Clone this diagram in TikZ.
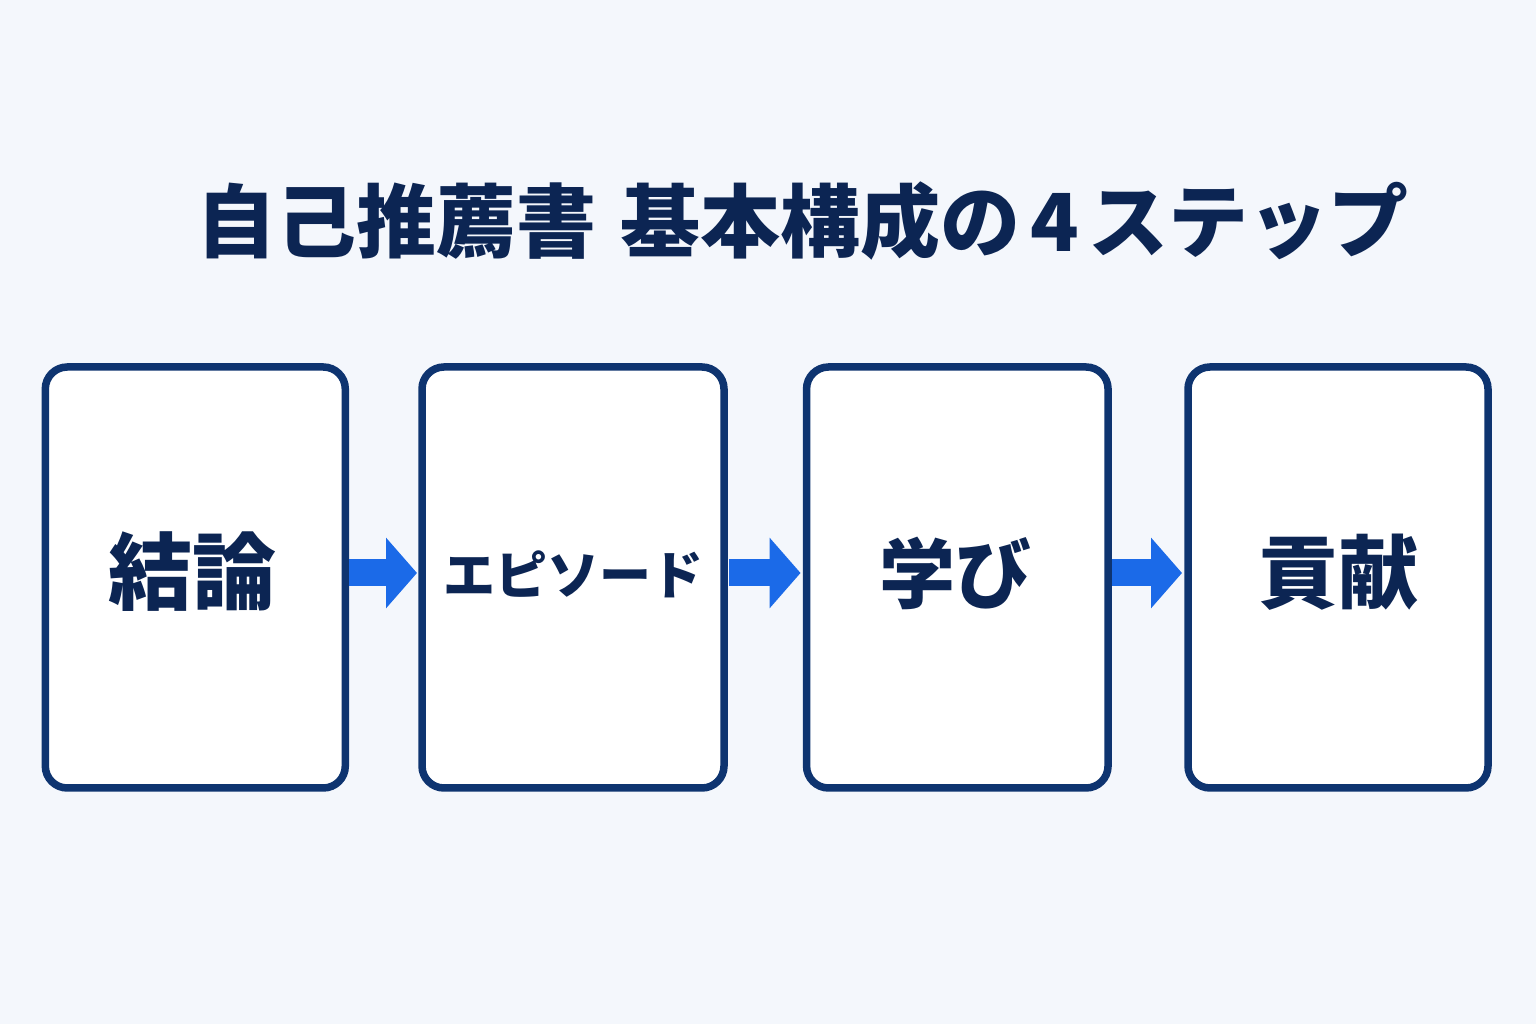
\documentclass[tikz,border=0pt]{standalone}
\usepackage{fontspec}
\newfontfamily\cjk{Noto Sans CJK JP}
\usetikzlibrary{arrows.meta}
\definecolor{bgc}{HTML}{F4F7FC}
\definecolor{boxline}{HTML}{0E3470}
\definecolor{txtc}{HTML}{0C2553}
\definecolor{arrc}{HTML}{1B6AE8}
\tikzset{
  stepbox/.style={draw=boxline, line width=7.5pt, fill=white, rounded corners=22pt,
    minimum width=300pt, minimum height=421pt, inner sep=0pt, outer sep=0pt},
  steptext/.style={text=txtc, font=\cjk\bfseries, inner sep=0pt},
  flowarrow/.style={draw=arrc, line width=27pt,
    -{Triangle[length=31pt 0 0, width=69pt 0 0]}}
}
\begin{document}
\begin{tikzpicture}[x=1pt,y=1pt]
  \fill[bgc] (0,0) rectangle (1536,1024);
  \useasboundingbox (0,0) rectangle (1536,1024);
  \node[text=txtc, font=\cjk\bfseries\fontsize{80}{96}\selectfont, inner sep=0pt]
    (title) at (802.5,803) {自己推薦書\hspace{0.3em}基本構成の\hspace{0.12em}4\hspace{0.12em}ステップ};
  \node[stepbox] (b1) at (195.3,446.5) {};
  \node[stepbox, minimum width=302pt] (b2) at (573,446.5) {};
  \node[stepbox, minimum width=301.5pt] (b3) at (957.3,446.5) {};
  \node[stepbox] (b4) at (1338,446.5) {};
  \node[steptext, font=\cjk\bfseries\fontsize{84}{96}\selectfont] (t1) at ([yshift=5.5pt,xshift=-3pt]b1.center) {結論};
  \node[steptext, font=\cjk\bfseries\fontsize{52}{62}\selectfont] (t2) at ([yshift=3pt]b2.center) {エピソード};
  \node[steptext, font=\cjk\bfseries\fontsize{76}{90}\selectfont] (t3) at ([yshift=4.5pt,xshift=-2pt]b3.center) {学び};
  \node[steptext, font=\cjk\bfseries\fontsize{80}{96}\selectfont] (t4) at ([yshift=5pt]b4.center) {貢献};
  \draw[flowarrow] ([xshift=3.5pt,yshift=4.5pt]b1.east) -- ([xshift=-5pt,yshift=4.5pt]b2.west);
  \draw[flowarrow] ([xshift=5pt,yshift=4.5pt]b2.east) -- ([xshift=-6pt,yshift=4.5pt]b3.west);
  \draw[flowarrow] ([xshift=4pt,yshift=4.5pt]b3.east) -- ([xshift=-6pt,yshift=4.5pt]b4.west);
\end{tikzpicture}
\end{document}
